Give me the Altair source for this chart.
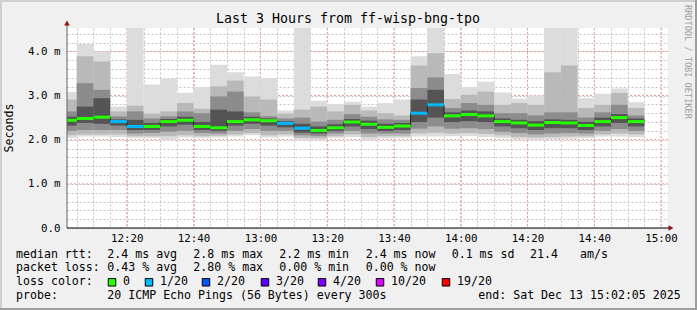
import altair as alt
import pandas as pd

MONO = "DejaVu Sans Mono"

# ---------------- text content ----------------
title_text = "Last 3 Hours from ff-wisp-bng-tpo"
y_title = "Seconds"
watermark = "RRDTOOL / TOBI OETIKER"
rtt_head = "median rtt:"
rtt_stats = ["2.4 ms avg", "2.8 ms max", "2.2 ms min", "2.4 ms now", "0.1 ms sd", "21.4", "am/s"]
loss_head = "packet loss:"
loss_stats = ["0.43 % avg", "2.80 % max", "0.00 % min", "0.00 % now"]
color_head = "loss color:"
loss_labels = ["0", "1/20", "2/20", "3/20", "4/20", "10/20", "19/20"]
loss_colors = ["#26ff00", "#00b8ff", "#0059ff", "#5e00ff", "#7e00ff", "#dd00ff", "#ff0000"]
probe_head = "probe:"
probe_text = "20 ICMP Echo Pings (56 Bytes) every 300s"
end_text = "end: Sat Dec 13 15:02:05 2025"

# ---------------- time axis (minutes after 12:00) ----------------
window_start = 2 + 5 / 60          # 12:02:05
window_end = window_start + 180    # 15:02:05
bar_end = list(range(5, 180, 5))   # 5-minute bins, last ends 14:55
bar_start = [window_start] + bar_end[:-1]
minor_x = list(range(5, 181, 5))
major_x = list(range(20, 181, 20))
minor_y = [round(0.2 * k, 1) for k in range(23)]
major_y = [1, 2, 3, 4]

# ---------------- data (milliseconds) ----------------
median = [2.44, 2.48, 2.51, 2.41, 2.30, 2.30, 2.41, 2.44, 2.30, 2.27, 2.41, 2.45, 2.43, 2.37, 2.26,
          2.21, 2.27, 2.40, 2.35, 2.28, 2.31, 2.60, 2.79, 2.54, 2.57, 2.54, 2.41, 2.38, 2.33, 2.39,
          2.38, 2.32, 2.41, 2.50, 2.41]
loss = [0, 0, 0, 1, 1, 0, 0, 0, 0, 0, 0, 0, 0, 1, 1, 0, 0, 0, 0, 0, 0, 1, 1, 0, 0, 0, 0, 0, 0, 0,
        0, 0, 0, 0, 0]
ping_max = [3.08, 4.17, 4.00, 2.75, 4.70, 3.25, 3.38, 3.06, 3.19, 3.70, 3.53, 3.43, 3.40, 2.66, 4.70,
            2.88, 2.81, 2.86, 2.75, 2.83, 2.91, 3.89, 4.70, 3.49, 3.19, 3.31, 3.07, 2.93, 3.00, 4.70,
            4.70, 2.94, 3.04, 3.16, 2.85]
upper2 = [2.91, 3.89, 3.77, 2.64, 2.77, 2.59, 2.64, 2.83, 2.70, 3.21, 3.34, 2.98, 2.91, 2.59, 2.68,
          2.75, 2.64, 2.79, 2.66, 2.60, 2.55, 3.68, 3.96, 2.92, 3.02, 3.09, 2.79, 2.83, 2.79, 3.53,
          3.68, 2.72, 2.79, 3.06, 2.72]
upper3 = [2.64, 3.28, 3.13, 2.53, 2.64, 2.48, 2.53, 2.64, 2.60, 2.98, 3.09, 2.62, 2.53, 2.48, 2.50,
          2.41, 2.45, 2.58, 2.52, 2.46, 2.45, 3.17, 3.41, 2.72, 2.83, 2.79, 2.60, 2.60, 2.55, 2.62,
          2.62, 2.50, 2.62, 2.79, 2.55]
upper4 = [2.52, 2.75, 2.94, 2.46, 2.45, 2.38, 2.47, 2.52, 2.40, 2.68, 2.64, 2.52, 2.48, 2.42, 2.36,
          2.30, 2.35, 2.47, 2.43, 2.36, 2.38, 2.91, 3.13, 2.62, 2.66, 2.64, 2.48, 2.45, 2.42, 2.46,
          2.45, 2.40, 2.50, 2.58, 2.48]
lower4 = [2.32, 2.38, 2.36, 2.32, 2.22, 2.22, 2.30, 2.34, 2.22, 2.20, 2.32, 2.36, 2.32, 2.28, 2.16,
          2.14, 2.20, 2.30, 2.24, 2.20, 2.22, 2.40, 2.50, 2.40, 2.42, 2.40, 2.30, 2.26, 2.22, 2.26,
          2.26, 2.22, 2.30, 2.38, 2.30]
lower3 = [2.20, 2.22, 2.22, 2.22, 2.14, 2.15, 2.18, 2.20, 2.15, 2.14, 2.20, 2.24, 2.20, 2.20, 2.10,
          2.08, 2.14, 2.20, 2.14, 2.14, 2.14, 2.25, 2.30, 2.25, 2.26, 2.24, 2.18, 2.15, 2.12, 2.14,
          2.15, 2.14, 2.20, 2.24, 2.20]
lower2 = [2.10, 2.12, 2.12, 2.12, 2.08, 2.08, 2.08, 2.10, 2.08, 2.09, 2.12, 2.15, 2.10, 2.12, 2.04,
          2.03, 2.08, 2.12, 2.06, 2.08, 2.08, 2.14, 2.16, 2.14, 2.15, 2.13, 2.10, 2.06, 2.05, 2.06,
          2.07, 2.08, 2.12, 2.14, 2.12]
ping_min = [2.04, 2.07, 2.07, 2.06, 2.04, 2.04, 2.00, 2.05, 2.04, 2.05, 2.07, 2.10, 2.05, 2.07, 2.00,
            2.00, 2.04, 2.06, 2.00, 2.03, 2.04, 2.07, 2.07, 2.08, 2.08, 2.06, 2.04, 2.01, 2.00, 2.01,
            2.02, 2.04, 2.07, 2.07, 2.06]

smoke_colors = ["#dcdcdc", "#b9b9b9", "#8c8c8c", "#545454"]

# ---------------- geometry / style ----------------
W, H = 601, 200
Y_MAX = 4.53
BAND = 0.034        # half thickness of median band (~1.5 px)
ARROW = "#9a1010"

x_scale = alt.Scale(domain=[window_start, window_end], nice=False, zero=False)
y_scale = alt.Scale(domain=[0, Y_MAX], nice=False, zero=True)

x_axis = alt.Axis(
    values=minor_x, grid=True, gridColor="#c4c4c4", gridDash=[2, 2], gridWidth=1,
    ticks=False, domain=False, title=None, labelOverlap=False, labelFlush=False,
    labelExpr="datum.value % 20 == 0 ? (12 + floor(datum.value / 60)) + ':' + "
              "(datum.value % 60 < 10 ? '0' : '') + (datum.value % 60) : ''",
    labelFont=MONO, labelFontSize=10.8, labelColor="black", labelPadding=4,
)
y_axis = alt.Axis(
    values=minor_y, grid=True, gridColor="#c4c4c4", gridDash=[2, 2], gridWidth=1,
    ticks=False, domain=False, title=None, labelOverlap=False, labelFlush=False,
    labelExpr="datum.value == 0 ? '0.0' : (abs(datum.value - round(datum.value)) < 0.01 ? "
              "format(datum.value, '.1f') + ' m' : '')",
    labelFont=MONO, labelFontSize=10.8, labelColor="black", labelPadding=7,
)


def X(field):
    return alt.X(field, scale=x_scale, axis=x_axis)


def Y(field):
    return alt.Y(field, scale=y_scale, axis=y_axis)


# ---------------- tables ----------------
rows = []
for lv, lo, hi in [("1", ping_min, ping_max), ("2", lower2, upper2),
                   ("3", lower3, upper3), ("4", lower4, upper4)]:
    for i in range(len(median)):
        rows.append({"t0": bar_start[i], "t1": bar_end[i], "lo": lo[i], "hi": hi[i], "level": lv})
smoke_df = pd.DataFrame(rows)

med_df = pd.DataFrame({
    "t0": bar_start, "t1": bar_end, "med": median,
    "lossc": [loss_labels[v] for v in loss],
})
step_df = pd.DataFrame({"t0": bar_start + [bar_end[-1]], "med": median + [median[-1]]})

dummy = pd.DataFrame({"d": [0]})

# ---------------- layers ----------------
major_v = alt.Chart(pd.DataFrame({"t0": major_x})).mark_rule(
    color="#f09a9a", strokeDash=[2, 2], strokeWidth=1
).encode(x=X("t0:Q"))

major_h = alt.Chart(pd.DataFrame({"lo": major_y})).mark_rule(
    color="#f09a9a", strokeDash=[2, 2], strokeWidth=1
).encode(y=Y("lo:Q"))

smoke = alt.Chart(smoke_df).mark_rect(clip=True).encode(
    x=X("t0:Q"),
    x2="t1:Q",
    y=Y("lo:Q"),
    y2="hi:Q",
    color=alt.Color("level:N", scale=alt.Scale(domain=["1", "2", "3", "4"], range=smoke_colors),
                    legend=None),
)

step = alt.Chart(step_df).mark_line(interpolate="step-after", color="#202020", strokeWidth=1).encode(
    x=X("t0:Q"),
    y=Y("med:Q"),
)

band = alt.Chart(med_df).transform_calculate(
    lo=f"datum.med - {BAND}", hi=f"datum.med + {BAND}"
).mark_rect().encode(
    x=X("t0:Q"),
    x2="t1:Q",
    y=Y("lo:Q"),
    y2="hi:Q",
    fill=alt.Fill("lossc:N", scale=alt.Scale(domain=loss_labels, range=loss_colors), legend=None),
)


def rule(x, y, x2=None, y2=None, color="black", width=1):
    enc = {"x": alt.value(x), "y": alt.value(y)}
    if x2 is not None:
        enc["x2"] = alt.value(x2)
    if y2 is not None:
        enc["y2"] = alt.value(y2)
    return alt.Chart(dummy).mark_rule(color=color, strokeWidth=width).encode(**enc)


def txt(s, x, y, size=11.6, align="left", color="black", angle=0):
    return alt.Chart(dummy).mark_text(
        align=align, baseline="middle", font=MONO, fontSize=size, color=color, angle=angle
    ).encode(x=alt.value(x), y=alt.value(y), text=alt.value(s))


def arrow(x, y, shape):
    return alt.Chart(dummy).mark_point(
        shape=shape, filled=True, color=ARROW, size=32, opacity=1
    ).encode(x=alt.value(x), y=alt.value(y))


def box(x, y, c):
    return alt.Chart(dummy).mark_square(
        fill=c, stroke="black", strokeWidth=1, size=56, opacity=1
    ).encode(x=alt.value(x), y=alt.value(y))


layers = [major_v, major_h, smoke, step, band]

# axes lines + arrows
layers += [
    rule(0, H, y2=-6, color="#606060"),
    rule(0, H, x2=W + 2, color="black"),
    arrow(0, -5, "triangle-up"),
    arrow(W + 3, H, "triangle-right"),
]

# frame of the picture
layers += [
    rule(-67, -27, x2=630, color="#cfcfcf", width=2),
    rule(-66, -28, y2=282, color="#cfcfcf", width=2),
    rule(-67, 281, x2=630, color="#9e9e9e", width=2),
    rule(629, -28, y2=282, color="#9e9e9e", width=2),
]

# titles
layers += [
    txt(title_text, 281, -9, size=13.3, align="center"),
    txt(y_title, -57, 100, size=11.6, align="center", angle=270),
    txt(watermark, 621, -23, size=8.6, color="#a0a0a0", angle=90),
]

# legend text
L1, L2, L3, L4 = 226.7, 240.3, 254.3, 267.7
cols = [40.3, 126.3, 212.3, 298.7, 384.7, 463, 513]
layers.append(txt(rtt_head, -51, L1))
for s, cx in zip(rtt_stats, cols):
    layers.append(txt(s, cx, L1))
layers.append(txt(loss_head, -51, L2))
for s, cx in zip(loss_stats, cols):
    layers.append(txt(s, cx, L2))
layers.append(txt(color_head, -51, L3))
label_x = [56, 93, 150, 209, 266, 324, 390]
for s, c, lx in zip(loss_labels, loss_colors, label_x):
    layers.append(box(lx - 11, L3, c))
    layers.append(txt(s, lx, L3))
layers.append(txt(probe_head, -51, L4))
layers.append(txt(probe_text, 40.3, L4))
layers.append(txt(end_text, 411.3, L4))

chart = alt.layer(*layers).resolve_scale(color="independent", fill="independent").properties(
    width=W, height=H,
    padding={"left": 67, "top": 28, "right": 29, "bottom": 82},
    autosize=alt.AutoSizeParams(type="none"),
).configure(background="#f0f0f0").configure_view(fill="white", stroke=None)

chart.save("out.html", embed_options={"renderer": "svg", "actions": False})
